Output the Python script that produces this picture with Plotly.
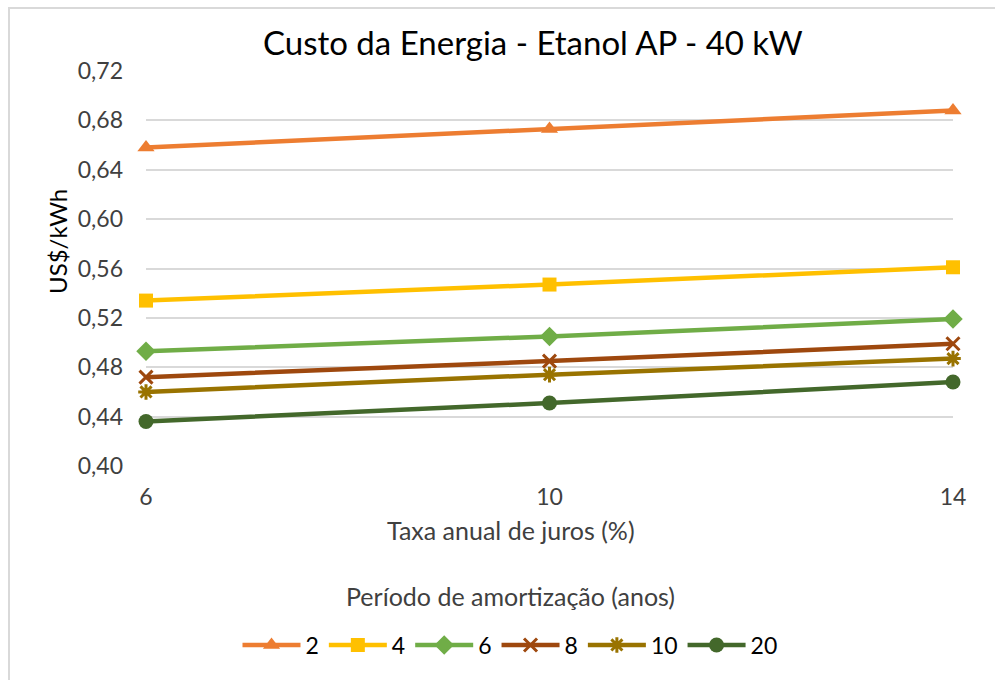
import plotly.graph_objects as go

# Taxa anual de juros (%)
taxas = [6, 10, 14]

# Custo da energia (US$/kWh) por período de amortização (anos)
periodos = ["2", "4", "6", "8", "10", "20"]
custo_2 = [0.658, 0.673, 0.688]
custo_4 = [0.534, 0.547, 0.561]
custo_6 = [0.493, 0.505, 0.519]
custo_8 = [0.472, 0.485, 0.499]
custo_10 = [0.460, 0.474, 0.487]
custo_20 = [0.436, 0.451, 0.468]

y_ticks = [0.40, 0.44, 0.48, 0.52, 0.56, 0.60, 0.64, 0.68, 0.72]
y_tick_text = ["0,40", "0,44", "0,48", "0,52", "0,56", "0,60", "0,64", "0,68", "0,72"]

series = [custo_2, custo_4, custo_6, custo_8, custo_10, custo_20]
colors = ["#ED7D31", "#FFC000", "#70AD47", "#9E480E", "#997300", "#43682B"]
symbols = ["triangle-up", "square", "diamond", "x-thin-open", "asterisk-open", "circle"]
marker_sizes = [15, 14, 15, 13, 13, 15]

FONT = "Lato, 'Open Sans', sans-serif"

# plot-area geometry in pixels, used to place free text in paper coordinates
L, R, T, B = 146, 953, 71, 466
W, H = R - L, B - T


def px_x(x):
    return (x - L) / W


def px_y(y):
    return (B - y) / H


fig = go.Figure()
for name, vals, col, sym, ms in zip(periodos, series, colors, symbols, marker_sizes):
    marker = dict(symbol=sym, size=ms, color=col, line=dict(color=col, width=0))
    if sym in ("x-thin-open", "asterisk-open"):
        marker["line"] = dict(color=col, width=3)
    fig.add_trace(go.Scatter(
        x=taxas, y=vals, name=name, mode="lines+markers",
        line=dict(color=col, width=4.5),
        marker=marker, cliponaxis=False,
    ))

fig.update_layout(
    width=995, height=680,
    margin=dict(l=L, r=995 - R, t=T, b=680 - B),
    paper_bgcolor="white", plot_bgcolor="white",
    font=dict(family=FONT, color="#404040", size=16),
    showlegend=True,
    legend=dict(orientation="h", x=px_x(510), xanchor="center",
                y=px_y(645), yanchor="middle",
                font=dict(family=FONT, size=23, color="#000000"),
                itemwidth=58, tracegroupgap=0),
    shapes=[dict(type="rect", xref="paper", yref="paper",
                 x0=px_x(9), x1=px_x(1012), y0=px_y(700), y1=px_y(8),
                 line=dict(color="#d9d9d9", width=2), fillcolor="rgba(0,0,0,0)",
                 layer="below")],
    annotations=[
        dict(text="Custo da Energia - Etanol AP - 40 kW", xref="paper", yref="paper",
             x=px_x(533), y=px_y(42), xanchor="center", yanchor="middle", showarrow=False,
             font=dict(family=FONT, size=33, color="#000000")),
        dict(text="Taxa anual de juros (%)", xref="paper", yref="paper",
             x=px_x(511), y=px_y(530), xanchor="center", yanchor="middle", showarrow=False,
             font=dict(family=FONT, size=25, color="#404040")),
        dict(text="US$/kWh", xref="paper", yref="paper", textangle=-90,
             x=px_x(57), y=px_y(242), xanchor="center", yanchor="middle", showarrow=False,
             font=dict(family=FONT, size=24, color="#000000")),
        dict(text="Período de amortização (anos)", xref="paper", yref="paper",
             x=px_x(510), y=px_y(596), xanchor="center", yanchor="middle", showarrow=False,
             font=dict(family=FONT, size=25, color="#404040")),
    ],
)

fig.update_xaxes(
    range=[6, 14], tickvals=taxas, ticktext=[str(t) for t in taxas],
    showgrid=False, zeroline=False, showline=False, ticks="",
    ticklabelstandoff=15,
    tickfont=dict(family=FONT, size=23, color="#404040"),
)
fig.update_yaxes(
    range=[0.40, 0.72], tickvals=y_ticks, ticktext=y_tick_text,
    showgrid=True, gridcolor="#d9d9d9", gridwidth=1.5, zeroline=False, showline=False,
    ticks="", ticklabelstandoff=22,
    tickfont=dict(family=FONT, size=23, color="#404040"),
)

fig.write_html("out.html")
